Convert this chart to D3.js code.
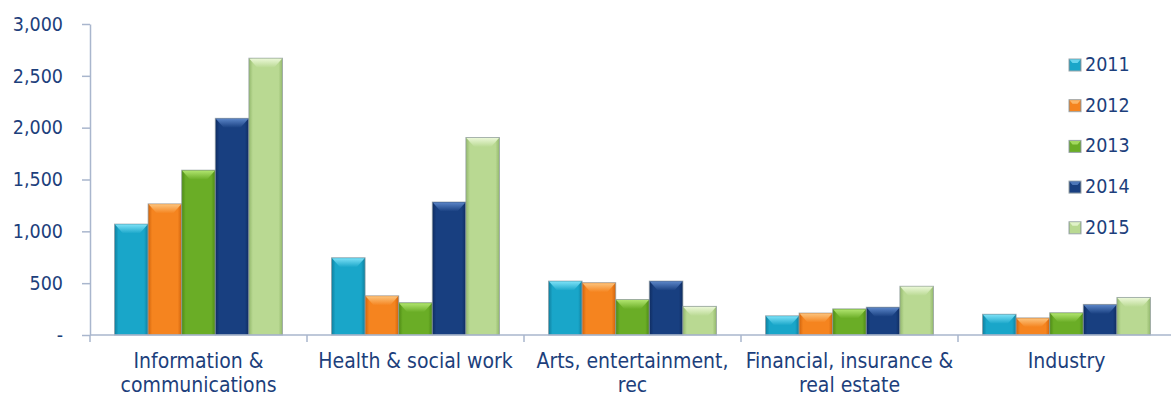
<!DOCTYPE html>
<html>
<head>
<meta charset="utf-8">
<script src="https://cdn.jsdelivr.net/npm/d3@7"></script>
<style>
  html, body { margin: 0; padding: 0; background: #ffffff; }
  svg { display: block; }
</style>
</head>
<body>
<svg id="chart" width="1171" height="397"></svg>
<script>
// ---- data ----
const categories = [
  "Information &|communications",
  "Health & social work",
  "Arts, entertainment,|rec",
  "Financial, insurance &|real estate",
  "Industry"
];
const years = ["2011", "2012", "2013", "2014", "2015"];
const values2011 = [1070, 745, 520, 185, 200];
const values2012 = [1265, 378, 505, 212, 165];
const values2013 = [1590, 312, 342, 252, 215];
const values2014 = [2090, 1283, 520, 268, 295];
const values2015 = [2670, 1905, 276, 470, 362];
const yTickValues = [0, 500, 1000, 1500, 2000, 2500, 3000];

const seriesValues = [values2011, values2012, values2013, values2014, values2015];
const colors = {
  "2011": { base: "#19a6c9", edge: "#0f7f9e", top: "#7be0f6" },
  "2012": { base: "#f5841f", edge: "#d0630c", top: "#fcc37c" },
  "2013": { base: "#6aad26", edge: "#4d8a14", top: "#b0e46e" },
  "2014": { base: "#183f80", edge: "#0f2c60", top: "#5a84c6" },
  "2015": { base: "#b9d992", edge: "#93b86c", top: "#eaf7d6" }
};
const textColor = "#1d3f7c";
const axisColor = "#a9b6cd";
const fontFamily = "'DejaVu Sans Condensed', 'DejaVu Sans', sans-serif";

const svg = d3.select("#chart");
const defs = svg.append("defs");

years.forEach(yr => {
  const c = colors[yr];
  const g = defs.append("linearGradient").attr("id", "grad" + yr)
    .attr("x1", "0%").attr("x2", "100%").attr("y1", "0%").attr("y2", "0%");
  g.append("stop").attr("offset", "0%").attr("stop-color", c.edge);
  g.append("stop").attr("offset", "12%").attr("stop-color", c.base);
  g.append("stop").attr("offset", "88%").attr("stop-color", c.base);
  g.append("stop").attr("offset", "100%").attr("stop-color", c.edge);
  const t = defs.append("linearGradient").attr("id", "top" + yr)
    .attr("x1", "0%").attr("x2", "0%").attr("y1", "0%").attr("y2", "100%");
  t.append("stop").attr("offset", "0%").attr("stop-color", c.top);
  t.append("stop").attr("offset", "100%").attr("stop-color", c.base);
});

// ---- scales ----
const plotLeft = 90, plotRight = 1175, plotTop = 24, plotBottom = 335;
const x0 = d3.scaleBand().domain(categories).range([plotLeft, plotRight]).paddingInner(0).paddingOuter(0);
const x1 = d3.scaleBand().domain(years).range([0, x0.bandwidth()]).paddingInner(0).paddingOuter(0.73);
const y = d3.scaleLinear().domain([0, 3000]).range([plotBottom, plotTop]);

// ---- bars ----
const rows = categories.map((cat, i) => ({
  cat,
  items: years.map((yr, j) => ({ yr, v: seriesValues[j][i] }))
}));

const groups = svg.append("g").selectAll("g").data(rows).join("g")
  .attr("transform", d => `translate(${x0(d.cat)},0)`);

const bars = groups.selectAll("g.bar").data(d => d.items).join("g").attr("class", "bar");

bars.append("rect")
  .attr("x", d => x1(d.yr))
  .attr("y", d => y(d.v))
  .attr("width", x1.bandwidth())
  .attr("height", d => y(0) - y(d.v))
  .attr("fill", d => `url(#grad${d.yr})`)
  .attr("stroke", "#8e9aa0")
  .attr("stroke-opacity", 0.7)
  .attr("stroke-width", 1);

// top bevel
bars.append("path")
  .attr("d", d => {
    const xl = x1(d.yr) + 0.5, xr = x1(d.yr) + x1.bandwidth() - 0.5, yt = y(d.v) + 0.5;
    const h = Math.min(9, (y(0) - y(d.v)) / 2);
    const inset = 8;
    return `M${xl},${yt} L${xr},${yt} L${xr - inset},${yt + h} L${xl + inset},${yt + h} Z`;
  })
  .attr("fill", d => `url(#top${d.yr})`);

// ---- y axis ----
const yAxis = d3.axisLeft(y)
  .tickValues(yTickValues)
  .tickSize(8)
  .tickSizeOuter(0)
  .tickPadding(19)
  .tickFormat(v => v === 0 ? "-" : d3.format(",")(v));

const yg = svg.append("g").attr("transform", `translate(${plotLeft},0)`).call(yAxis);
yg.select(".domain").attr("stroke", axisColor).attr("stroke-width", 1.5);
yg.selectAll(".tick line").attr("stroke", axisColor).attr("stroke-width", 1.5);
yg.selectAll(".tick text")
  .attr("fill", textColor)
  .style("font-family", fontFamily)
  .style("font-size", "19.5px");

// ---- x axis ----
const xg = svg.append("g");
xg.append("line")
  .attr("x1", plotLeft).attr("x2", plotRight)
  .attr("y1", plotBottom).attr("y2", plotBottom)
  .attr("stroke", axisColor).attr("stroke-width", 1.5);
const boundaries = categories.map(c => x0(c)).concat([x0(categories[categories.length - 1]) + x0.bandwidth()]);
xg.selectAll("line.tk").data(boundaries).join("line").attr("class", "tk")
  .attr("x1", d => d).attr("x2", d => d)
  .attr("y1", plotBottom).attr("y2", plotBottom + 7)
  .attr("stroke", axisColor).attr("stroke-width", 1.5);

const labels = xg.selectAll("text.cat").data(categories).join("text").attr("class", "cat")
  .attr("text-anchor", "middle")
  .attr("fill", textColor)
  .style("font-family", fontFamily)
  .style("font-size", "21px")
  .attr("transform", d => `translate(${x0(d) + x0.bandwidth() / 2},0)`);
labels.selectAll("tspan").data(d => d.split("|")).join("tspan")
  .attr("x", 0)
  .attr("y", (d, i) => 368 + i * 24)
  .text(d => d);

// ---- legend ----
const legend = svg.append("g");
const li = legend.selectAll("g").data(years).join("g")
  .attr("transform", (d, i) => `translate(1069,${59 + i * 40.7})`);
li.append("rect")
  .attr("width", 12).attr("height", 12)
  .attr("fill", d => `url(#grad${d})`)
  .attr("stroke", "#9aa5aa").attr("stroke-width", 1);
li.append("path")
  .attr("d", "M0.5,0.5 L11.5,0.5 L8.5,4 L3.5,4 Z")
  .attr("fill", d => colors[d].top).attr("opacity", 0.8);
li.append("text")
  .attr("x", 16).attr("y", 12)
  .attr("fill", textColor)
  .style("font-family", fontFamily)
  .style("font-size", "19.5px")
  .text(d => d);
</script>
</body>
</html>
